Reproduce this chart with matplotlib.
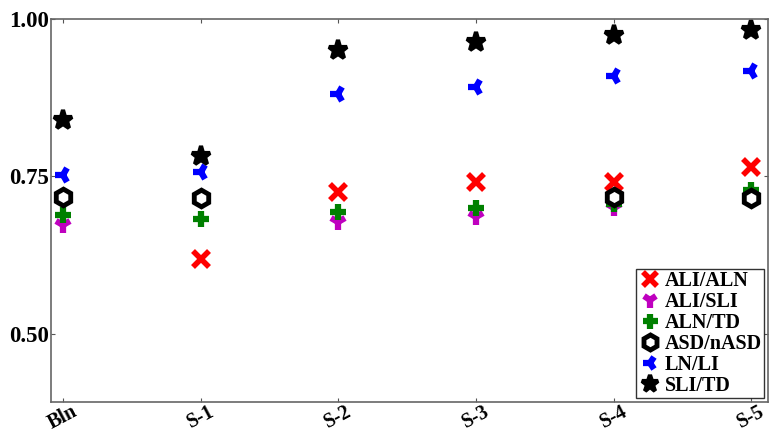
import numpy as np
import matplotlib
matplotlib.use('Agg')
import matplotlib.pyplot as plt

plt.rcParams['font.family'] = ['Liberation Serif', 'DejaVu Serif']
plt.rcParams['font.weight'] = 'bold'

sessions = ['Bln', 'S-1', 'S-2', 'S-3', 'S-4', 'S-5']
nan = np.nan
ali_aln = [nan, 0.619, 0.725, 0.741, 0.741, 0.765]
ali_sli = [0.673, nan, 0.678, 0.686, 0.700, 0.716]
aln_td = [0.689, 0.683, 0.694, 0.700, 0.706, 0.729]
asd_nasd = [0.717, 0.716, nan, nan, 0.717, 0.716]
ln_li = [0.752, 0.757, 0.881, 0.892, 0.910, 0.917]
sli_td = [0.840, 0.783, 0.951, 0.963, 0.975, 0.983]

series = [
    ('ALI/ALN', ali_aln, 'x', '#ff0000', 11, 4),
    ('ALI/SLI', ali_sli, '1', '#bf00bf', 12, 4.5),
    ('ALN/TD', aln_td, '+', '#008000', 12, 4.5),
    ('ASD/nASD', asd_nasd, 'h', 'black', 12, 3.5),
    ('LN/LI', ln_li, '3', '#0000ff', 12, 4.5),
    ('SLI/TD', sli_td, '*', 'black', 14, 3),
]

fig = plt.figure(figsize=(7.7, 4.33), dpi=100)
ax = fig.add_axes([0.066, 0.072, 0.931, 0.884])
x = np.arange(len(sessions))

for label, vals, mk, clr, ms, mew in series:
    if mk == 'h':
        ax.plot(x, vals, linestyle='none', marker=mk, markersize=ms, markeredgewidth=mew,
                markeredgecolor=clr, markerfacecolor='white', label=label)
    else:
        ax.plot(x, vals, linestyle='none', marker=mk, markersize=ms, markeredgewidth=mew,
                color=clr, markeredgecolor=clr, label=label)

ax.set_xlim(-0.09, 5.12)
ax.set_ylim(0.392, 1.0)
ax.set_xticks(x)
ax.set_xticklabels(sessions, rotation=28, fontsize=14.5, fontweight='bold')
ax.set_yticks([0.5, 0.75, 1.0])
ax.set_yticklabels(['0.50', '0.75', '1.00'], fontsize=16.5, fontweight='bold')
ax.tick_params(axis='y', pad=1)
ax.tick_params(axis='x', pad=0)
ax.tick_params(direction='in', length=3, width=0.8, top=True, right=True, colors='#555555',
               labelcolor='black')
for sp in ax.spines.values():
    sp.set_color('#666666')
    sp.set_linewidth(1.2)

leg = ax.legend(loc='lower right', fontsize=14.5, frameon=True, fancybox=False, borderpad=0.1,
                labelspacing=0.05, handletextpad=0.1, handlelength=1.2, borderaxespad=0.2,
                markerscale=0.9)
leg.get_frame().set_edgecolor('black')
leg.get_frame().set_linewidth(1.0)
for t in leg.get_texts():
    t.set_fontweight('bold')

fig.savefig('out.png', dpi=100)
